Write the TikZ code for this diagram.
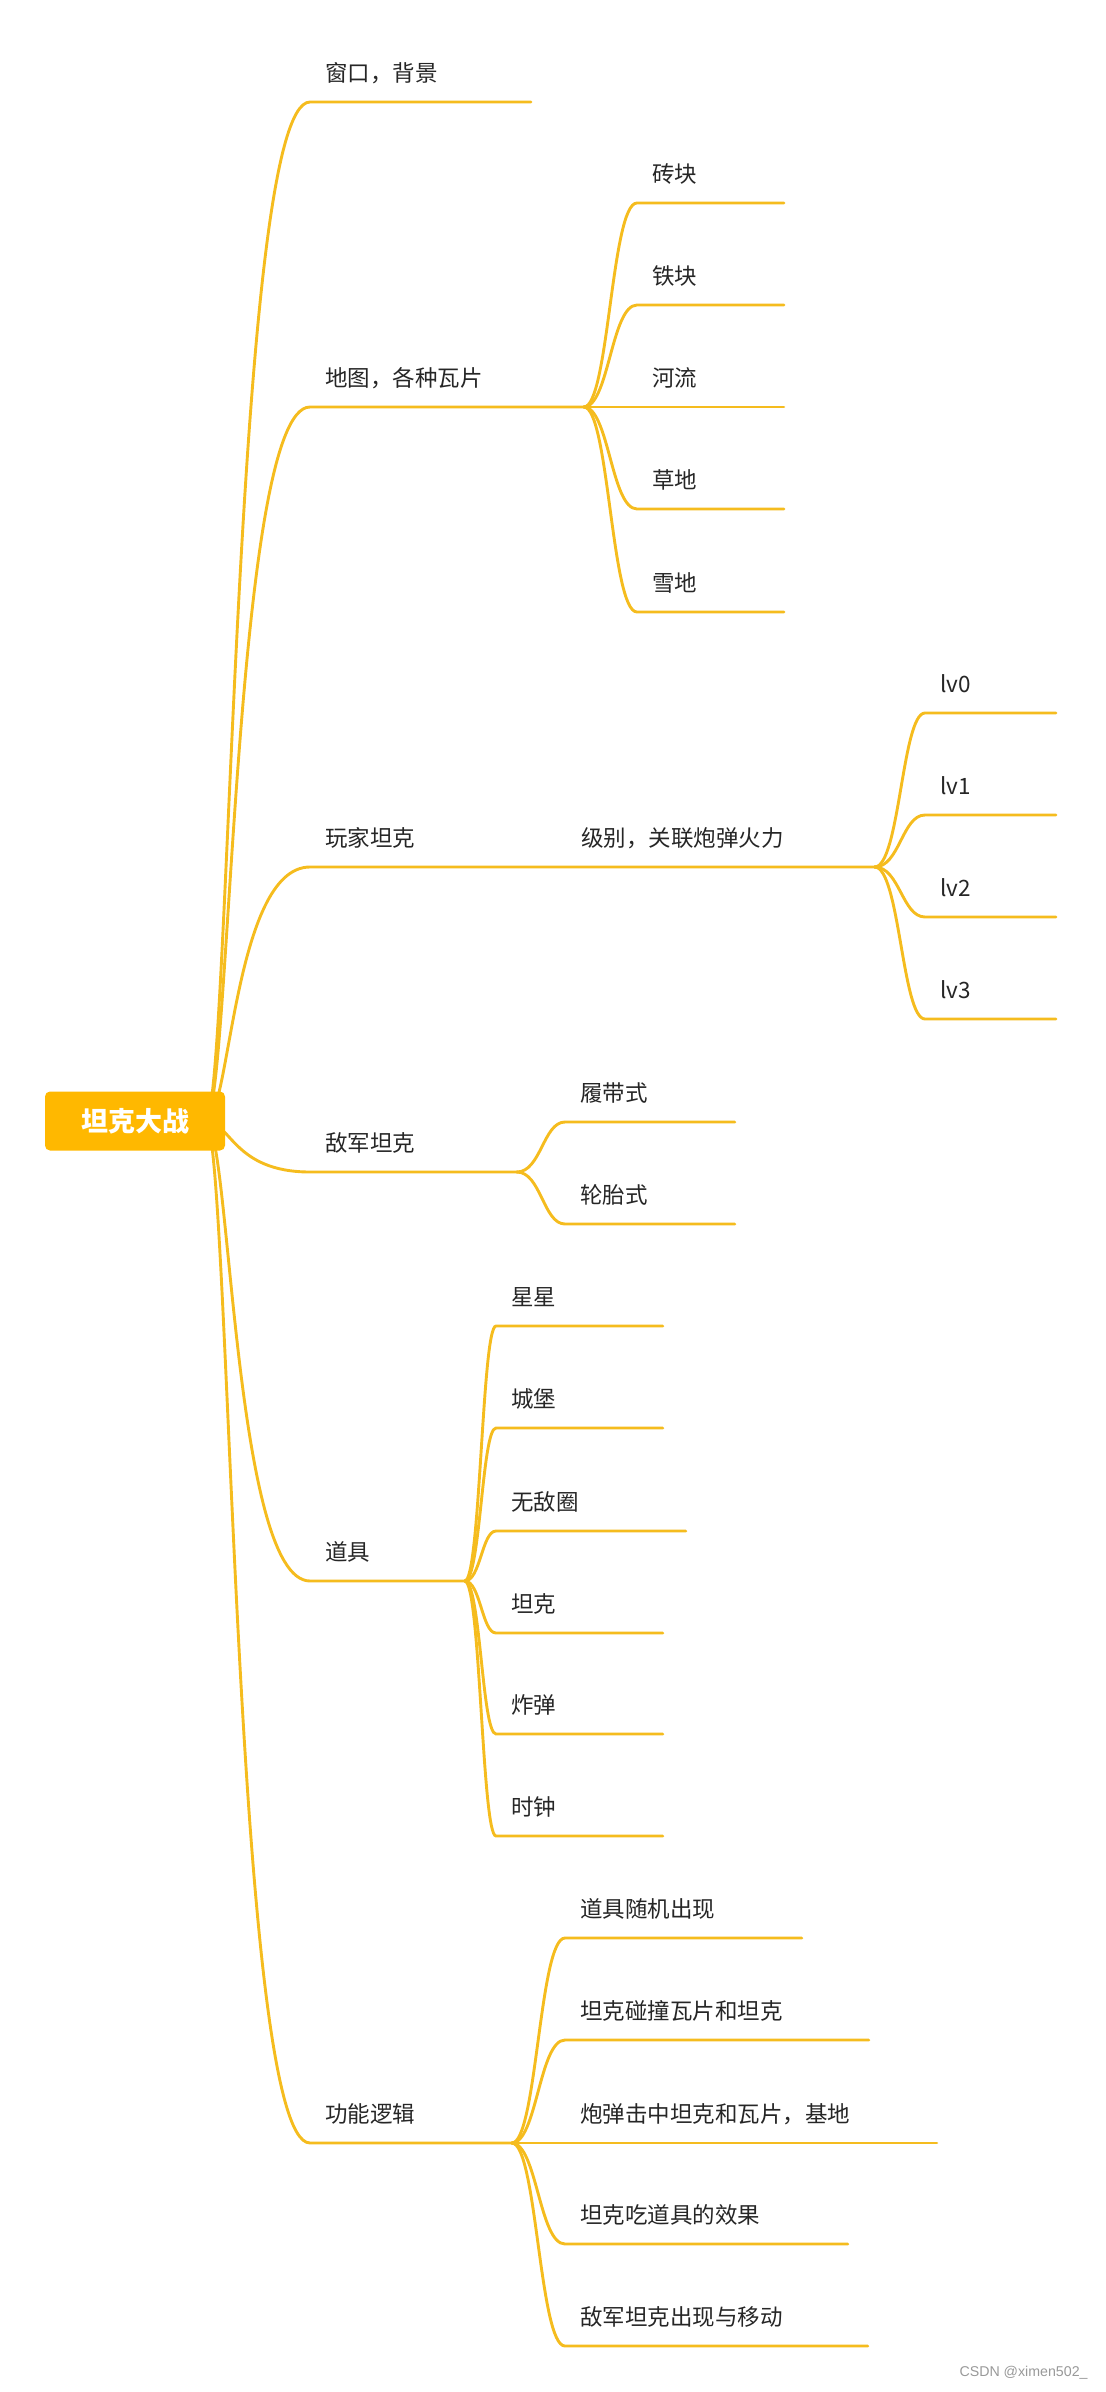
\documentclass[tikz,border=0pt]{standalone}
\usepackage{fontspec}
\setmainfont{Noto Sans CJK SC}
\newfontfamily\wmfont{Liberation Sans}
\usetikzlibrary{calc,backgrounds}
\definecolor{tankorange}{RGB}{255,184,0}
\definecolor{branchyellow}{RGB}{245,188,30}

\begin{document}
\begin{tikzpicture}[x=0.5pt,y=-0.5pt]

  \tikzstyle{rootbox}=[rectangle,rounded corners=2.5pt,fill=tankorange,text=white,minimum width=90pt,minimum height=29.5pt,inner sep=0pt,font=\fontsize{13.5}{16}\selectfont\bfseries]
  \tikzstyle{topic}=[rectangle,anchor=south west,inner xsep=7.5pt,inner ysep=0pt,minimum height=28pt,text height=.88em,text depth=.12em,align=left,text=black!85,font=\fontsize{11.25}{13}\selectfont]
  \tikzstyle{link}=[draw=branchyellow,line width=1.45pt,line cap=round]
  \tikzstyle{branch}=[to path={let \p1=(\tikztostart), \p2=(\tikztotarget), \n1={min(12.5pt,0.5*(\x2-\x1))} in .. controls ({\x1+\n1*1pt},\y1) and ({\x1+\n1*1.1pt},\y2) .. (\p2)}]
  \tikzstyle{wmark}=[anchor=east,inner sep=0pt,text=black!40,font=\wmfont\fontsize{7.1}{8}\selectfont]

  \useasboundingbox (0,0) rectangle (1105,2392);

  \node[rootbox] (root) at (135,1121) {坦克大战};
  \coordinate (hub) at ([xshift=-10pt]root.east);

  \node[topic,text width=95pt] (win) at (310,102) {窗口，背景};
  \node[topic,text width=121.5pt] (map) at (310,407) {地图，各种瓦片};
  \node[topic,text width=112.5pt] (player) at (310,867) {玩家坦克};
  \node[topic,text width=88pt] (enemy) at (310,1172) {敌军坦克};
  \node[topic,text width=62pt] (prop) at (310,1581) {道具};
  \node[topic,text width=85.5pt] (logic) at (310,2143) {功能逻辑};

  \node[topic,text width=58pt] (brick) at (637,203) {砖块};
  \node[topic,text width=58pt] (steel) at (637,305) {铁块};
  \node[topic,text width=58pt] (river) at (637,407) {河流};
  \node[topic,text width=58pt] (grass) at (637,509) {草地};
  \node[topic,text width=58pt] (snow) at (637,612) {雪地};

  \node[topic,text width=139pt] (level) at (player.south east) {级别，关联炮弹火力};
  \node[topic,text width=50pt] (lv0) at (925,713) {lv0};
  \node[topic,text width=50pt] (lv1) at (925,815) {lv1};
  \node[topic,text width=50pt] (lv2) at (925,917) {lv2};
  \node[topic,text width=50pt] (lv3) at (925,1019) {lv3};

  \node[topic,text width=69.5pt] (track) at (565,1122) {履带式};
  \node[topic,text width=69.5pt] (wheel) at (565,1224) {轮胎式};

  \node[topic,text width=68pt] (star) at (496,1326) {星星};
  \node[topic,text width=68pt] (castle) at (496,1428) {城堡};
  \node[topic,text width=79.5pt] (shield) at (496,1531) {无敌圈};
  \node[topic,text width=68pt] (extra) at (496,1633) {坦克};
  \node[topic,text width=68pt] (bomb) at (496,1734) {炸弹};
  \node[topic,text width=68pt] (clock) at (496,1836) {时钟};

  \node[topic,text width=103pt] (spawn) at (565,1938) {道具随机出现};
  \node[topic,text width=136.5pt] (collide) at (565,2040) {坦克碰撞瓦片和坦克};
  \node[topic,text width=170.5pt] (hit) at (565,2143) {炮弹击中坦克和瓦片，基地};
  \node[topic,text width=126pt] (pickup) at (565,2244) {坦克吃道具的效果};
  \node[topic,text width=136pt] (move) at (565,2346) {敌军坦克出现与移动};

  \node[wmark] (csdn) at (1088,2373) {CSDN @ximen502\_};

  \begin{scope}[on background layer]
  \draw[link] (hub) to[branch] (win.south west) -- (win.south east);
  \draw[link] (hub) to[branch] (map.south west) -- (map.south east);
  \draw[link] (hub) to[branch] (player.south west) -- (player.south east) -- (level.south east);
  \draw[link] (hub) to[branch] (enemy.south west) -- (enemy.south east);
  \draw[link] (hub) to[branch] (prop.south west) -- (prop.south east);
  \draw[link] (hub) to[branch] (logic.south west) -- (logic.south east);

  \draw[link] (map.south east) to[branch] (brick.south west) -- (brick.south east);
  \draw[link] (map.south east) to[branch] (steel.south west) -- (steel.south east);
  \draw[link] (map.south east) to[branch] (river.south west) -- (river.south east);
  \draw[link] (map.south east) to[branch] (grass.south west) -- (grass.south east);
  \draw[link] (map.south east) to[branch] (snow.south west) -- (snow.south east);

  \draw[link] (level.south east) to[branch] (lv0.south west) -- (lv0.south east);
  \draw[link] (level.south east) to[branch] (lv1.south west) -- (lv1.south east);
  \draw[link] (level.south east) to[branch] (lv2.south west) -- (lv2.south east);
  \draw[link] (level.south east) to[branch] (lv3.south west) -- (lv3.south east);

  \draw[link] (enemy.south east) to[branch] (track.south west) -- (track.south east);
  \draw[link] (enemy.south east) to[branch] (wheel.south west) -- (wheel.south east);

  \draw[link] (prop.south east) to[branch] (star.south west) -- (star.south east);
  \draw[link] (prop.south east) to[branch] (castle.south west) -- (castle.south east);
  \draw[link] (prop.south east) to[branch] (shield.south west) -- (shield.south east);
  \draw[link] (prop.south east) to[branch] (extra.south west) -- (extra.south east);
  \draw[link] (prop.south east) to[branch] (bomb.south west) -- (bomb.south east);
  \draw[link] (prop.south east) to[branch] (clock.south west) -- (clock.south east);

  \draw[link] (logic.south east) to[branch] (spawn.south west) -- (spawn.south east);
  \draw[link] (logic.south east) to[branch] (collide.south west) -- (collide.south east);
  \draw[link] (logic.south east) to[branch] (hit.south west) -- (hit.south east);
  \draw[link] (logic.south east) to[branch] (pickup.south west) -- (pickup.south east);
  \draw[link] (logic.south east) to[branch] (move.south west) -- (move.south east);
  \end{scope}

  %\draw[step=100,gray,very thin] (0,0) grid (1105,2392);

\end{tikzpicture}
\end{document}
